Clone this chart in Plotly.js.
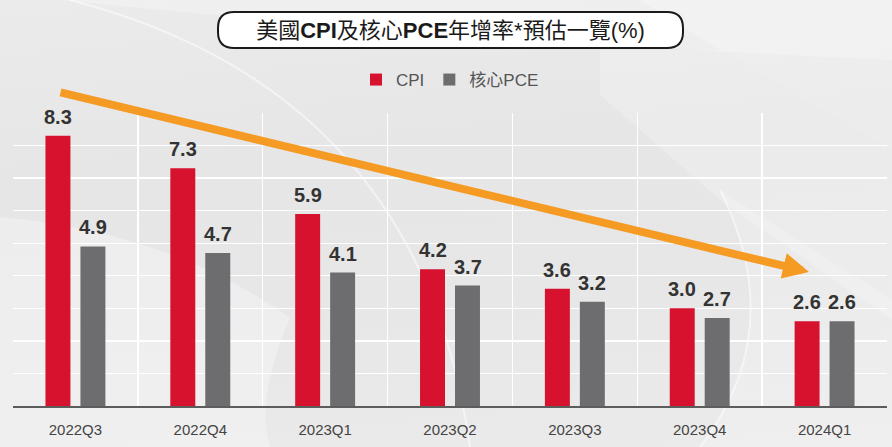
<!DOCTYPE html>
<html>
<head>
<meta charset="utf-8">
<script src="https://cdn.plot.ly/plotly-3.0.1.min.js"></script>
<style>
  html, body { margin: 0; padding: 0; }
  body { width: 892px; height: 447px; overflow: hidden;
    background: linear-gradient(175deg, #ebebeb 0%, #e6e6e7 35%, #e7e7e8 65%, #ebebeb 100%); }
  #chart { width: 892px; height: 447px; }
</style>
</head>
<body>
<div id="chart"></div>
<script>
// ---- data ----
const categories = ["2022Q3", "2022Q4", "2023Q1", "2023Q2", "2023Q3", "2023Q4", "2024Q1"];
const cpi = [8.3, 7.3, 5.9, 4.2, 3.6, 3.0, 2.6];
const corePce = [4.9, 4.7, 4.1, 3.7, 3.2, 2.7, 2.6];
const seriesNames = ["CPI", "核心PCE"];
const titleText = "美國<b>CPI</b>及核心<b>PCE</b>年增率*預估一覽(%)";

const W = 892, H = 447;
const M = { l: 13, r: 5, t: 113, b: 41 };
const PW = W - M.l - M.r, PH = H - M.t - M.b;
const px = x => (x - M.l) / PW;          // pixel x -> paper
const py = y => (H - M.b - y) / PH;      // pixel y -> paper

const idx = categories.map((_, i) => i);
const RED = "#d6122f", GRAY = "#6d6d6f";
const latin = "Liberation Sans, Arial, Noto Sans CJK TC, sans-serif";

const traces = [
  { type: "bar", name: seriesNames[0], x: idx, y: cpi, marker: { color: RED }, hoverinfo: "skip" },
  { type: "bar", name: seriesNames[1], x: idx, y: corePce, marker: { color: GRAY }, hoverinfo: "skip" }
];

// value labels
const annotations = [];
cpi.forEach((v, i) => annotations.push({ x: i, y: v, xref: "x", yref: "y", text: v.toFixed(1),
  showarrow: false, xshift: -17.5, yshift: 6, yanchor: "bottom",
  font: { family: latin, size: 20, color: "#333333", weight: "bold" } }));
corePce.forEach((v, i) => annotations.push({ x: i, y: v, xref: "x", yref: "y", text: v.toFixed(1),
  showarrow: false, xshift: 17.5, yshift: 6, yanchor: "bottom",
  font: { family: latin, size: 20, color: "#333333", weight: "bold" } }));

// trend arrow
annotations.push({ xref: "paper", yref: "paper", x: px(809), y: py(272),
  axref: "pixel", ayref: "pixel", ax: 59 - 809, ay: 92 - 272,
  showarrow: true, arrowhead: 2, arrowsize: 0.65, arrowwidth: 8, arrowcolor: "#f59a23", text: "" });

// helpers for decorative paths in pixel space -> paper
const P = (x, y) => `${px(x)},${py(y)}`;
function roundRect(x0p, y0p, x1p, y1p, r) {
  const X0 = px(x0p), X1 = px(x1p), Yt = py(y0p), Yb = py(y1p);
  const rx = r / PW, ry = r / PH;
  return `M${X0 + rx},${Yt} L${X1 - rx},${Yt} Q${X1},${Yt} ${X1},${Yt - ry} L${X1},${Yb + ry} Q${X1},${Yb} ${X1 - rx},${Yb} ` +
         `L${X0 + rx},${Yb} Q${X0},${Yb} ${X0},${Yb + ry} L${X0},${Yt - ry} Q${X0},${Yt} ${X0 + rx},${Yt} Z`;
}
const deco = (path, fill, line) => ({ type: "path", xref: "paper", yref: "paper", layer: "below",
  path, fillcolor: fill || "rgba(0,0,0,0)", line: line || { width: 0 } });
const shapes = [
  // lighter top band
  deco(`M${P(0, 0)} L${P(892, 0)} L${P(892, 60)} Q${P(450, 40)} ${P(60, 0)} Z`, "rgba(255,255,255,0.25)"),
  // lighter lower-left area
  deco(`M${P(0, 217)} Q${P(170, 232)} ${P(290, 318)} Q${P(255, 400)} ${P(270, 447)} L${P(0, 447)} Z`, "rgba(255,255,255,0.3)"),
  // lighter diagonal bands at top right
  deco(`M${P(600, 95)} L${P(720, 200)} L${P(892, 320)} L${P(892, 150)} L${P(720, 50)} L${P(600, 50)} Z`, "rgba(255,255,255,0.22)"),
  deco(`M${P(720, 50)} L${P(892, 150)} L${P(892, 0)} L${P(640, 0)} Z`, "rgba(255,255,255,0.25)"),
  // lighter bottom-right
  deco(`M${P(700, 447)} Q${P(790, 330)} ${P(720, 190)} L${P(892, 300)} L${P(892, 447)} Z`, "rgba(255,255,255,0.2)"),
  // light arc strokes
  deco(`M${P(70, 0)} Q${P(420, 90)} ${P(470, 447)}`, null, { color: "rgba(255,255,255,0.5)", width: 2 }),
  deco(`M${P(700, 447)} Q${P(790, 330)} ${P(720, 190)}`, null, { color: "rgba(255,255,255,0.5)", width: 2 }),
  // rounded title box
  { type: "path", xref: "paper", yref: "paper", path: roundRect(218, 12, 683, 48, 16),
    fillcolor: "#ffffff", line: { color: "#1a1a1a", width: 2 }, layer: "above" }
];

const layout = {
  width: W, height: H,
  margin: M,
  paper_bgcolor: "rgba(0,0,0,0)",
  plot_bgcolor: "rgba(0,0,0,0)",
  title: { text: titleText, x: 450.5 / W, xanchor: "center",
    y: 1 - 30.5 / H, yanchor: "middle", yref: "container", xref: "container",
    font: { family: latin, size: 22, color: "#1a1a1a" } },
  showlegend: true,
  legend: { orientation: "h", x: px(450), xanchor: "center", y: py(80), yanchor: "middle",
    font: { family: latin, size: 17, color: "#555555" }, bgcolor: "rgba(0,0,0,0)", traceorder: "normal" },
  barmode: "group", bargap: 0.44, bargroupgap: 0.286,
  xaxis: { range: [-0.5, categories.length - 0.5], tickvals: idx, ticktext: categories,
    ticks: "", showgrid: false, zeroline: false, showline: true, linecolor: "#5c5c5c", linewidth: 1.5,
    tickfont: { family: latin, size: 15, color: "#444444" }, ticklabelstandoff: 9,
    minor: { tick0: -0.5, dtick: 1, showgrid: true, gridcolor: "#ffffff", gridwidth: 1.3, ticks: "" },
    fixedrange: true },
  yaxis: { range: [0, 9], dtick: 1, showticklabels: false, ticks: "", showgrid: true,
    gridcolor: "#ffffff", gridwidth: 1.3, zeroline: false, showline: false, fixedrange: true },
  annotations: annotations,
  shapes: shapes
};

Plotly.newPlot("chart", traces, layout, { displayModeBar: false, staticPlot: true });
</script>
</body>
</html>
